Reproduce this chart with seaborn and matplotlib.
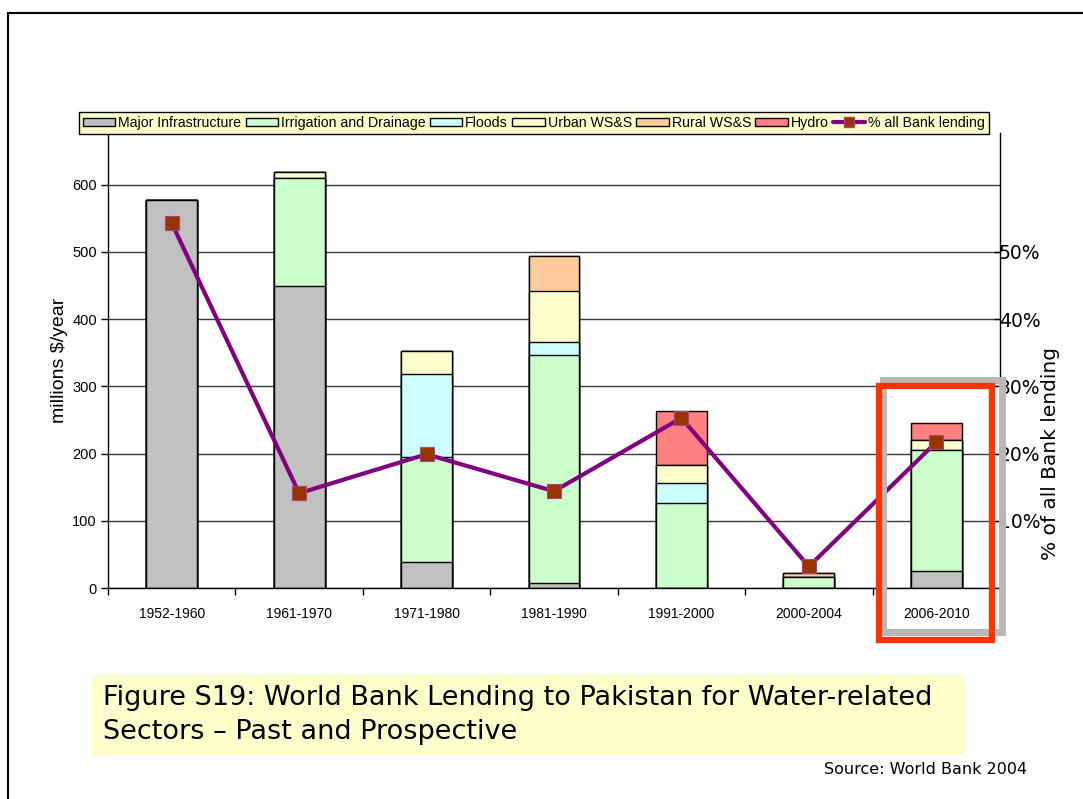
import matplotlib

matplotlib.use("Agg")
import matplotlib.pyplot as plt
import numpy as np
import pandas as pd
import seaborn as sns
from matplotlib.lines import Line2D
from matplotlib.patches import Patch, Rectangle

PERIODS = ["1952-1960", "1961-1970", "1971-1980", "1981-1990", "1991-2000", "2000-2004", "2006-2010"]

# millions $/year by sector, bottom of the stack first
MAJOR = [578, 450, 38, 7, 0, 0, 25]
IRRIGATION = [0, 160, 157, 340, 127, 17, 180]
FLOODS = [0, 0, 123, 19, 29, 0, 0]
URBAN = [0, 9, 35, 76, 27, 0, 15]
RURAL = [0, 0, 0, 52, 0, 6, 0]
HYDRO = [0, 0, 0, 0, 80, 0, 26]

# share of all Bank lending, percent
PCT_LENDING = [54.3, 14.1, 19.9, 14.4, 25.3, 3.2, 21.7]

SECTORS = ["Major Infrastructure", "Irrigation and Drainage", "Floods", "Urban WS&S", "Rural WS&S", "Hydro"]
SECTOR_COLORS = ["#C0C0C0", "#CCFFCC", "#CCFFFF", "#FFFFCC", "#FFCC99", "#FF8080"]

W, H = 1083, 799


def fx(px):
    return px / W


def fy(py):
    return 1 - py / H


sns.set_theme(style="ticks")
plt.rcParams["font.family"] = ["Liberation Sans", "DejaVu Sans"]
plt.rcParams.update({"text.color": "black", "axes.labelcolor": "black",
                     "xtick.color": "black", "ytick.color": "black"})

fig = plt.figure(figsize=(W / 100, H / 100), dpi=100)
ax = fig.add_axes([fx(108), fy(588), fx(1000) - fx(108), fy(133) - fy(588)])

stack = pd.DataFrame({"period": PERIODS})
layers = [MAJOR, IRRIGATION, FLOODS, URBAN, RURAL, HYDRO]
cum = np.cumsum(np.array(layers), axis=0)
for i in range(len(layers) - 1, -1, -1):
    stack["top"] = cum[i]
    sns.barplot(data=stack, x="period", y="top", order=PERIODS, color=SECTOR_COLORS[i],
                saturation=1, width=0.4, edgecolor="black", linewidth=1, ax=ax, zorder=2)

ax.set_ylim(0, 677)
ax.set_xlim(-0.5, len(PERIODS) - 0.5)
ax.set_yticks(range(0, 700, 100))
ax.yaxis.grid(True, color="#3a3a3a", linewidth=1)
ax.set_axisbelow(True)
ax.tick_params(axis="y", direction="out", length=5, width=1, labelsize=10.5, pad=3)
ax.set_xticks(np.arange(-0.5, len(PERIODS), 1))
ax.set_xticklabels([])
ax.set_xticks(np.arange(len(PERIODS)), minor=True)
ax.set_xticklabels(PERIODS, minor=True, fontsize=10)
ax.tick_params(axis="x", which="major", direction="out", length=5, width=1)
ax.tick_params(axis="x", which="minor", length=0, pad=14)
ax.set_xlabel("")
ax.set_ylabel("millions $/year", fontsize=14)
ax.yaxis.set_label_coords(-0.045, 0.5)
for side in ["top", "right"]:
    ax.spines[side].set_visible(False)
for side in ["left", "bottom"]:
    ax.spines[side].set_color("black")
    ax.spines[side].set_linewidth(1)

ax2 = ax.twinx()
sns.lineplot(x=np.arange(len(PERIODS)), y=np.array(PCT_LENDING) / 100, ax=ax2, color="#800080",
             linewidth=3, marker="s", markersize=10, markerfacecolor="#993300",
             markeredgecolor="#a04878", markeredgewidth=0.8, zorder=5)
ax2.set_ylim(0, 0.677)
ax2.set_yticks([0.1, 0.2, 0.3, 0.4, 0.5])
ax2.set_yticklabels(["10%", "20%", "30%", "40%", "50%"], family="DejaVu Sans", fontsize=13.5)
ax2.tick_params(axis="y", direction="in", length=4, width=1, pad=-1)
ax2.set_ylabel("")
ax2.set_xlabel("")
ax2.set_xlim(-0.5, len(PERIODS) - 0.5)
for side in ["top", "left", "bottom"]:
    ax2.spines[side].set_visible(False)
ax2.spines["right"].set_color("black")
ax2.spines["right"].set_linewidth(1)

fig.text(fx(1050), fy(453), "% of all Bank lending", rotation=90, ha="center", va="center",
         family="DejaVu Sans", fontsize=14.5)

handles = [Patch(facecolor=c, edgecolor="black", linewidth=1) for c in SECTOR_COLORS]
handles.append(Line2D([], [], color="#800080", linewidth=3, marker="s", markersize=7,
                      markerfacecolor="#993300", markeredgecolor="#a04878"))
labels = SECTORS + ["% all Bank lending"]
fig.legend(handles, labels, loc="center", bbox_to_anchor=(fx(534), fy(123)), ncol=7,
           frameon=True, fancybox=False, edgecolor="black", facecolor="#FFFFCC", framealpha=1,
           fontsize=10.2, handlelength=2.3, handleheight=0.55, handletextpad=0.2,
           columnspacing=0.3, borderpad=0.25)

# highlight around the prospective period
fig.add_artist(Rectangle((fx(883), fy(632)), fx(1002) - fx(883), fy(380) - fy(632),
                         transform=fig.transFigure, fill=False, edgecolor="#b8b8b8",
                         linewidth=5, zorder=3))
fig.add_artist(Rectangle((fx(879), fy(640)), fx(992) - fx(879), fy(386) - fy(640),
                         transform=fig.transFigure, fill=False, edgecolor="#FF3300",
                         linewidth=4.5, zorder=4))

# caption
fig.add_artist(Rectangle((fx(92), fy(755)), fx(965) - fx(92), fy(675) - fy(755),
                         transform=fig.transFigure, facecolor="#FFFFCC", edgecolor="none"))
fig.text(fx(103), fy(715), "Figure S19: World Bank Lending to Pakistan for Water-related\n"
         "Sectors \u2013 Past and Prospective", ha="left", va="center",
         family="DejaVu Sans", fontsize=19.5, linespacing=1.4)
fig.text(fx(1027), fy(770), "Source: World Bank 2004", ha="right", va="center",
         family="DejaVu Sans", fontsize=11.5)

# slide border
fig.add_artist(Line2D([fx(8), 1], [fy(13), fy(13)], transform=fig.transFigure, color="black", linewidth=1.5))
fig.add_artist(Line2D([fx(8), fx(8)], [fy(13), 0], transform=fig.transFigure, color="black", linewidth=1.5))

fig.savefig("out.png", dpi=100)
